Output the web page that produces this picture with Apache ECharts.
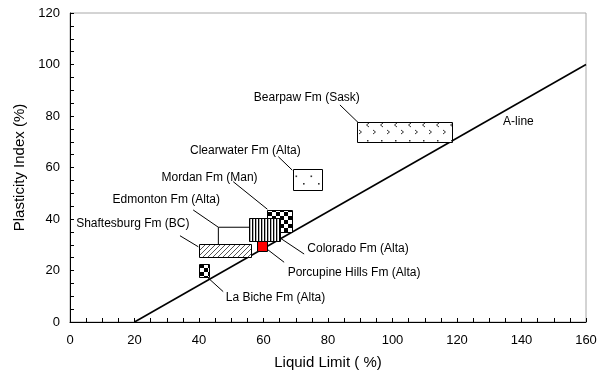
<!DOCTYPE html>
<html>
<head>
<meta charset="utf-8">
<script src="https://cdn.jsdelivr.net/npm/echarts@6/dist/echarts.min.js"></script>
<style>html,body{margin:0;padding:0;background:#fff}#c{width:606px;height:377px}</style>
</head>
<body>
<div id="c"></div>
<script>
// ---- data ----
const xTicks = [0, 20, 40, 60, 80, 100, 120, 140, 160];
const yTicks = [0, 20, 40, 60, 80, 100, 120];
// boxes in order: Bearpaw, Clearwater, Mordan, Edmonton, Shaftesburg, Porcupine Hills, La Biche
// liquid limit ranges (%)
const boxLL = [[89, 118.5], [69, 78], [61, 68.7], [55.5, 65], [40, 56], [58, 61.2], [40, 43]];
// plasticity index ranges (%)
const boxPI = [[70, 77.6], [51, 59.3], [35.1, 43.5], [31.6, 40.5], [25, 30.2], [27.7, 31.6], [17.4, 22.4]];
// A-line
const aLineLL = [20, 160];
const aLinePI = [0, 100];
// annotation texts and anchor (LL, PI)
const labelText = ['Bearpaw Fm (Sask)', 'Clearwater Fm (Alta)', 'Mordan Fm (Man)', 'Edmonton Fm (Alta)', 'Shaftesburg Fm (BC)', 'Colorado Fm (Alta)', 'Porcupine Hills Fm (Alta)', 'La Biche Fm (Alta)', 'A-line'];
const labelLL = [57, 37.2, 28.4, 13.2, 1.9, 73.6, 67.5, 48.3, 134.3];
const labelPI = [87, 66.4, 56.0, 47.4, 38.3, 28.3, 19.1, 9.4, 77.7];
// leader lines (LL, PI)
const leaders = [
  [[83.7, 84.3], [89.4, 77.4]],
  [[64.6, 64.2], [68.9, 59.0]],
  [[50.6, 54.5], [61.2, 43.8]],
  [[38.2, 43.5], [46.0, 36.8], [55.5, 36.8]],
  [[46.0, 36.8], [46.0, 30.2]],
  [[34.1, 33.5], [39.8, 29.2]],
  [[65.3, 32.5], [72.6, 26.4]],
  [[61.2, 28.2], [66.4, 23.2]],
  [[42.4, 17.6], [47.5, 11.8]]
];

// ---- patterns (style) ----
function tile(w, h, draw) {
  const c = document.createElement('canvas');
  c.width = w; c.height = h;
  const ctx = c.getContext('2d');
  ctx.fillStyle = '#fff'; ctx.fillRect(0, 0, w, h);
  draw(ctx);
  return { image: c, repeat: 'repeat' };
}
const patChevron = tile(14, 20, ctx => {
  ctx.fillStyle = '#333';
  ctx.fillRect(3, 0, 1.5, 1.5);
  ctx.strokeStyle = '#333'; ctx.lineWidth = 1;
  ctx.beginPath(); ctx.moveTo(5, 3); ctx.lineTo(2.5, 5); ctx.lineTo(5, 7); ctx.stroke();
  ctx.beginPath(); ctx.moveTo(9, 10); ctx.lineTo(11.5, 12); ctx.lineTo(9, 14); ctx.stroke();
});
const patDots = tile(15, 15, ctx => {
  ctx.fillStyle = '#333';
  ctx.fillRect(3, 3, 1.6, 1.6);
  ctx.fillRect(10.5, 10.5, 1.6, 1.6);
});
const patChecker = tile(8, 8, ctx => {
  ctx.fillStyle = '#000';
  ctx.fillRect(0, 0, 4, 4);
  ctx.fillRect(4, 4, 4, 4);
});
const patStripes = tile(3, 4, ctx => {
  ctx.fillStyle = '#000';
  ctx.fillRect(0, 0, 1.3, 4);
});
const patHatch = tile(5, 5, ctx => {
  ctx.strokeStyle = '#555'; ctx.lineWidth = 1;
  ctx.beginPath(); ctx.moveTo(-1, 6); ctx.lineTo(6, -1); ctx.stroke();
  ctx.beginPath(); ctx.moveTo(-1, 1); ctx.lineTo(1, -1); ctx.stroke();
  ctx.beginPath(); ctx.moveTo(4, 6); ctx.lineTo(6, 4); ctx.stroke();
});
const boxFills = [patChevron, patDots, patChecker, patStripes, patHatch, '#ff0000', patChecker];

const FONT = '"Liberation Sans", Arial, sans-serif';

const boxData = boxLL.map((ll, i) => [ll[0], boxPI[i][0], ll[1], boxPI[i][1]]);
const labelData = labelLL.map((x, i) => [x, labelPI[i]]);

const chart = echarts.init(document.getElementById('c'));
chart.setOption({
  animation: false,
  backgroundColor: '#fff',
  grid: { left: 70, right: 20, top: 13, bottom: 55, show: true, borderColor: '#a8a8a8', borderWidth: 1 },
  xAxis: {
    type: 'value', min: xTicks[0], max: xTicks[xTicks.length - 1], interval: 20,
    axisLine: { show: true, onZero: false, lineStyle: { color: '#000', width: 1 } },
    axisTick: { show: true, inside: true, length: 4, lineStyle: { color: '#000' } },
    minorTick: { show: true, splitNumber: 4, length: 4, lineStyle: { color: '#000' } },
    splitLine: { show: false },
    axisLabel: { color: '#000', fontSize: 13, margin: 12, fontFamily: FONT },
    name: 'Liquid Limit ( %)', nameLocation: 'middle', nameGap: 33,
    nameTextStyle: { color: '#000', fontSize: 15, fontFamily: FONT }
  },
  yAxis: {
    type: 'value', min: yTicks[0], max: yTicks[yTicks.length - 1], interval: 20,
    axisLine: { show: true, onZero: false, lineStyle: { color: '#000', width: 1 } },
    axisTick: { show: true, inside: true, length: 4, lineStyle: { color: '#000' } },
    minorTick: { show: true, splitNumber: 4, length: 4, lineStyle: { color: '#000' } },
    splitLine: { show: false },
    axisLabel: { color: '#000', fontSize: 13, margin: 10, fontFamily: FONT },
    name: 'Plasticity Index (%)', nameLocation: 'middle', nameGap: 37,
    nameTextStyle: { color: '#000', fontSize: 15, fontFamily: FONT }
  },
  series: [
    {
      type: 'line', data: aLineLL.map((x, i) => [x, aLinePI[i]]), symbol: 'none',
      lineStyle: { color: '#000', width: 1.6 }, z: 3
    },
    {
      type: 'lines', coordinateSystem: 'cartesian2d', polyline: true,
      data: leaders.map(p => ({ coords: p })),
      lineStyle: { color: '#000', width: 1, opacity: 1 }, z: 2
    },
    {
      type: 'custom', data: boxData, z: 4,
      encode: { x: [0, 2], y: [1, 3] },
      renderItem: function (params, api) {
        const p1 = api.coord([api.value(0), api.value(3)]);
        const p2 = api.coord([api.value(2), api.value(1)]);
        return {
          type: 'rect',
          shape: { x: Math.round(p1[0]) + 0.5, y: Math.round(p1[1]) + 0.5, width: Math.round(p2[0] - p1[0]), height: Math.round(p2[1] - p1[1]) },
          style: { fill: boxFills[params.dataIndex], stroke: '#000', lineWidth: 1 }
        };
      }
    },
    {
      type: 'custom', data: labelData, z: 5,
      encode: { x: 0, y: 1 },
      renderItem: function (params, api) {
        const p = api.coord([api.value(0), api.value(1)]);
        return {
          type: 'text', x: p[0], y: p[1],
          style: {
            text: labelText[params.dataIndex], fill: '#000', font: '12px ' + FONT,
            textAlign: 'left', textVerticalAlign: 'middle', align: 'left', verticalAlign: 'middle'
          }
        };
      }
    }
  ]
});
</script>
</body>
</html>
